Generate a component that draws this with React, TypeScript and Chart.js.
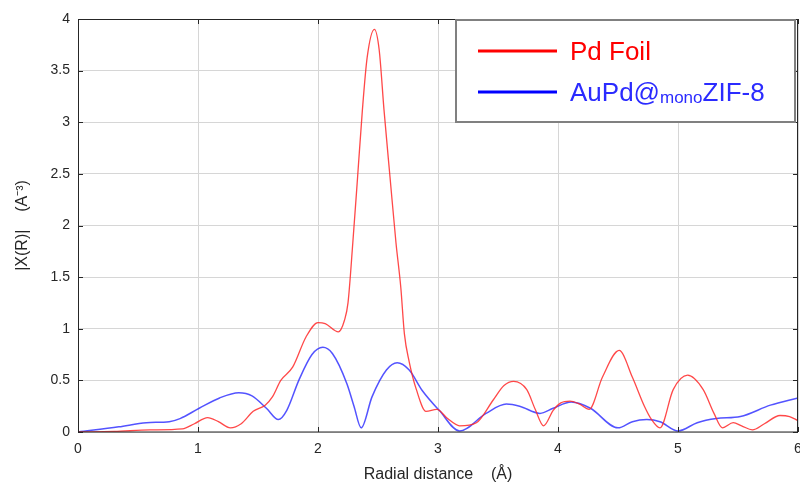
import React, { useEffect, useRef } from "react";
import { Chart, registerables } from "chart.js";

Chart.register(...registerables);

const pdFoilR = [0, 0.3, 0.6, 0.87, 0.97, 1.08, 1.17, 1.27, 1.36, 1.46, 1.56, 1.62, 1.69, 1.79, 1.9, 2.0, 2.06, 2.17, 2.22, 2.25, 2.29, 2.33, 2.37, 2.41, 2.47, 2.51, 2.55, 2.6, 2.65, 2.69, 2.72, 2.76, 2.82, 2.9, 2.99, 3.08, 3.18, 3.32, 3.46, 3.55, 3.63, 3.74, 3.81, 3.88, 3.96, 4.02, 4.1, 4.18, 4.26, 4.37, 4.51, 4.62, 4.72, 4.78, 4.85, 4.96, 5.08, 5.21, 5.3, 5.37, 5.46, 5.53, 5.62, 5.72, 5.85, 5.93, 6.0];
const pdFoilChi = [0, 0.005, 0.02, 0.03, 0.08, 0.14, 0.1, 0.04, 0.08, 0.2, 0.26, 0.34, 0.5, 0.63, 0.92, 1.06, 1.05, 0.97, 1.08, 1.25, 1.83, 2.47, 3.12, 3.63, 3.9, 3.7, 3.12, 2.47, 1.83, 1.4, 0.95, 0.68, 0.41, 0.2, 0.22, 0.13, 0.06, 0.09, 0.31, 0.45, 0.49, 0.41, 0.22, 0.06, 0.21, 0.28, 0.3, 0.27, 0.22, 0.53, 0.79, 0.53, 0.25, 0.12, 0.04, 0.41, 0.55, 0.41, 0.18, 0.04, 0.09, 0.06, 0.02, 0.08, 0.16, 0.15, 0.11];

const aupdR = [0, 0.34, 0.57, 0.76, 0.85, 1.01, 1.18, 1.34, 1.45, 1.57, 1.67, 1.74, 1.84, 1.95, 2.04, 2.12, 2.24, 2.3, 2.36, 2.45, 2.57, 2.66, 2.76, 2.87, 3.01, 3.18, 3.4, 3.57, 3.68, 3.85, 3.96, 4.11, 4.27, 4.5, 4.62, 4.74, 4.85, 5.0, 5.16, 5.32, 5.52, 5.77, 6.0];
const aupdChi = [0, 0.05, 0.09, 0.1, 0.13, 0.23, 0.33, 0.38, 0.35, 0.23, 0.12, 0.21, 0.5, 0.75, 0.82, 0.76, 0.47, 0.25, 0.04, 0.34, 0.6, 0.67, 0.6, 0.4, 0.21, 0.01, 0.18, 0.27, 0.25, 0.18, 0.23, 0.29, 0.23, 0.04, 0.1, 0.12, 0.1, 0.01, 0.09, 0.13, 0.15, 0.26, 0.33];

const xTicks = [0, 1, 2, 3, 4, 5, 6];
const yTicks = [0, 0.5, 1, 1.5, 2, 2.5, 3, 3.5, 4];

const FONT = "'Liberation Sans', Arial, sans-serif";

const framePlugin = {
  id: "frameAndLegend",
  afterDraw(chart: any) {
    const { ctx, chartArea, scales } = chart;
    const { left, right, top, bottom } = chartArea;
    ctx.save();
    // frame
    ctx.strokeStyle = "#262626";
    ctx.lineWidth = 1;
    ctx.strokeRect(left + 0.5, top + 0.5, right - left - 1, bottom - top - 0.5);
    // inner ticks
    const tl = 5;
    ctx.strokeStyle = "#262626";
    ctx.beginPath();
    for (const v of xTicks) {
      const px = Math.round(scales.x.getPixelForValue(v)) + 0.5;
      ctx.moveTo(px, bottom);
      ctx.lineTo(px, bottom - tl);
      ctx.moveTo(px, top);
      ctx.lineTo(px, top + tl);
    }
    for (const v of yTicks) {
      const py = Math.round(scales.y.getPixelForValue(v)) + 0.5;
      ctx.moveTo(left, py);
      ctx.lineTo(left + tl, py);
      ctx.moveTo(right, py);
      ctx.lineTo(right - tl, py);
    }
    ctx.stroke();

    // legend box
    const bx = right - 343;
    const by = top;
    const bw = 341;
    const bh = 104;
    ctx.fillStyle = "#ffffff";
    ctx.fillRect(bx, by, bw, bh);
    ctx.strokeStyle = "#808080";
    ctx.lineWidth = 2;
    ctx.strokeRect(bx + 1, by + 1, bw - 2, bh - 2);

    const lx0 = bx + 23;
    const lx1 = bx + 102;
    const tx = bx + 115;
    ctx.lineWidth = 3;
    ctx.strokeStyle = "#ff0000";
    ctx.beginPath();
    ctx.moveTo(lx0, by + 32);
    ctx.lineTo(lx1, by + 32);
    ctx.stroke();
    ctx.strokeStyle = "#0000ff";
    ctx.beginPath();
    ctx.moveTo(lx0, by + 73);
    ctx.lineTo(lx1, by + 73);
    ctx.stroke();

    ctx.textAlign = "left";
    ctx.textBaseline = "alphabetic";
    ctx.font = `26px ${FONT}`;
    ctx.fillStyle = "#ff0000";
    ctx.fillText("Pd Foil", tx, by + 41);
    ctx.fillStyle = "#2b2bff";
    let x = tx;
    const t1 = "AuPd@";
    ctx.fillText(t1, x, by + 82);
    x += ctx.measureText(t1).width;
    ctx.font = `17px ${FONT}`;
    const t2 = "mono";
    ctx.fillText(t2, x, by + 84);
    x += ctx.measureText(t2).width;
    ctx.font = `26px ${FONT}`;
    ctx.fillText("ZIF-8", x, by + 82);
    ctx.restore();
  },
};

export default function App() {
  const ref = useRef<HTMLCanvasElement | null>(null);
  useEffect(() => {
    if (!ref.current) return;
    const chart = new Chart(ref.current, {
      type: "scatter",
      data: {
        datasets: [
          {
            label: "Pd Foil",
            data: pdFoilR.map((r, i) => ({ x: r, y: pdFoilChi[i] })),
            showLine: true,
            borderColor: "rgba(255,40,40,0.85)",
            borderWidth: 1.3,
            pointRadius: 0,
            cubicInterpolationMode: "monotone",
          },
          {
            label: "AuPd@monoZIF-8",
            data: aupdR.map((r, i) => ({ x: r, y: aupdChi[i] })),
            showLine: true,
            borderColor: "rgba(40,40,255,0.8)",
            borderWidth: 1.5,
            pointRadius: 0,
            cubicInterpolationMode: "monotone",
          },
        ],
      },
      options: {
        responsive: false,
        animation: false,
        layout: { padding: { top: 19, right: 2, left: 0, bottom: 0 } },
        plugins: { legend: { display: false }, tooltip: { enabled: false } },
        scales: {
          x: {
            type: "linear",
            min: 0,
            max: 6,
            afterFit: (s: any) => {
              s.height = 51;
              s.paddingLeft = 0;
              s.paddingRight = 0;
            },
            afterBuildTicks: (s: any) => {
              s.ticks = xTicks.map((v) => ({ value: v }));
            },
            grid: { color: "#d6d6d6", drawTicks: false, lineWidth: 1 },
            border: { display: false },
            ticks: {
              padding: 9,
              color: "#262626",
              font: { family: FONT, size: 14 },
              callback: (v: any) => String(v),
            },
            title: {
              display: true,
              text: "Radial distance    (Å)",
              color: "#262626",
              font: { family: FONT, size: 16, lineHeight: 1 },
              padding: { top: 0, bottom: 0 },
            },
          },
          y: {
            type: "linear",
            min: 0,
            max: 4,
            afterFit: (s: any) => {
              s.width = 78;
              s.paddingTop = 0;
              s.paddingBottom = 0;
            },
            afterBuildTicks: (s: any) => {
              s.ticks = yTicks.map((v) => ({ value: v }));
            },
            grid: { color: "#d6d6d6", drawTicks: false, lineWidth: 1 },
            border: { display: false },
            ticks: {
              padding: 8,
              color: "#262626",
              font: { family: FONT, size: 14 },
              callback: (v: any) => String(v),
            },
            title: {
              display: true,
              text: "|X(R)|    (A⁻³)",
              color: "#262626",
              font: { family: FONT, size: 16, lineHeight: 1.2 },
              padding: { top: 13, bottom: 0 },
            },
          },
        },
      },
      plugins: [framePlugin],
    });
    return () => chart.destroy();
  }, []);
  return (
    <div style={{ position: "absolute", left: 0, top: 0, width: 800, height: 483, background: "#fff" }}>
      <canvas ref={ref} width={800} height={483} />
    </div>
  );
}
